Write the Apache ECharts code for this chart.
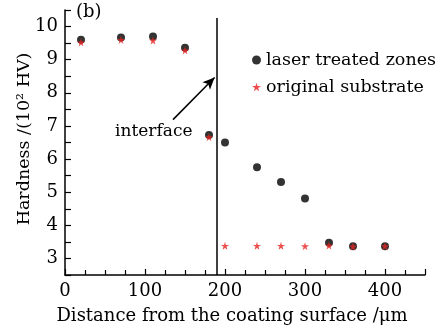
<!DOCTYPE html>
<html>
<head>
<meta charset="utf-8">
<script src="https://cdn.jsdelivr.net/npm/echarts@6/dist/echarts.min.js"></script>
<style>
  html, body { margin: 0; padding: 0; background: #fff; }
  #chart { width: 443px; height: 330px; }
</style>
</head>
<body>
<div id="chart"></div>
<script>
// distances (µm) and hardness (10^2 HV)
const laserX = [20, 70, 110, 150, 180, 200, 240, 270, 300, 330, 360, 400]
const laserY = [9.6, 9.67, 9.7, 9.36, 6.73, 6.5, 5.75, 5.31, 4.81, 3.47, 3.37, 3.37]
const substrateX = [20, 70, 110, 150, 180, 200, 240, 270, 300, 330, 360, 400]
const substrateY = [9.52, 9.6, 9.58, 9.28, 6.66, 3.38, 3.38, 3.38, 3.37, 3.39, 3.36, 3.37]
const xTicks = [0, 100, 200, 300, 400]
const yTicks = [3, 4, 5, 6, 7, 8, 9, 10]
const interfaceX = 190
const arrowFrom = [135, 7.19]
const arrowTo = [187, 8.46]
const labelAt = [111, 6.83]

const font = 'DejaVu Serif'
const starPath = 'path://M50,0 L61,35 L98,35 L68,57 L79,91 L50,70 L21,91 L32,57 L2,35 L39,35 Z'

const chart = echarts.init(document.getElementById('chart'))
const option = {
  backgroundColor: '#fff',
  animation: false,
  textStyle: { fontFamily: font, color: '#000' },
  grid: { left: 65, right: 18, top: 10, bottom: 55 },
  legend: {
    orient: 'vertical',
    left: 247,
    top: 46,
    itemGap: 9,
    itemWidth: 9,
    itemHeight: 9,
    textStyle: { fontFamily: font, fontSize: 17.5, color: '#000' },
    data: [
      { name: 'laser treated zones', icon: 'circle' },
      { name: 'original substrate', icon: starPath }
    ]
  },
  graphic: [
    { type: 'text', left: 76, top: 3, style: { text: '(b)', font: '18px "DejaVu Serif"', fill: '#000' } }
  ],
  xAxis: {
    type: 'value',
    min: 0,
    max: 450,
    interval: 100,
    name: 'Distance from the coating surface /μm',
    nameLocation: 'middle',
    nameMoveOverlap: false,
    nameGap: 32,
    nameTextStyle: { fontFamily: font, fontSize: 18, color: '#000', padding: [0, 26, 0, 0] },
    axisLine: { onZero: false, lineStyle: { color: '#000', width: 1.5 } },
    axisTick: { inside: true, length: 6, lineStyle: { color: '#000', width: 1.2 } },
    minorTick: { show: true, splitNumber: 4, length: 5, lineStyle: { color: '#000', width: 1.2 } },
    axisLabel: {
      fontFamily: font, fontSize: 18, color: '#000', margin: 7,
      formatter: v => (xTicks.includes(v) ? String(v) : '')
    },
    splitLine: { show: false }
  },
  yAxis: {
    type: 'value',
    min: 2.5,
    max: 10.5,
    interval: 0.5,
    name: 'Hardness /(10² HV)',
    nameLocation: 'middle',
    nameMoveOverlap: false,
    nameGap: 32,
    nameTextStyle: { fontFamily: font, fontSize: 17.5, color: '#000', padding: [0, 0, 0, 7] },
    axisLine: { show: true, onZero: false, lineStyle: { color: '#000', width: 1.5 } },
    axisTick: { inside: true, length: 6, lineStyle: { color: '#000', width: 1.2 } },
    axisLabel: {
      fontFamily: font, fontSize: 18, color: '#000', margin: 7,
      formatter: v => (yTicks.includes(v) ? String(v) : '')
    },
    splitLine: { show: false }
  },
  series: [
    {
      name: 'laser treated zones',
      type: 'scatter',
      symbol: 'circle',
      symbolSize: 8,
      itemStyle: { color: '#000' },
      data: laserX.map((x, i) => [x, laserY[i]]),
      z: 2
    },
    {
      name: 'original substrate',
      type: 'scatter',
      symbol: starPath,
      symbolSize: 8,
      itemStyle: { color: '#e8231f' },
      data: substrateX.map((x, i) => [x, substrateY[i]]),
      z: 3,
      markLine: {
        silent: true,
        animation: false,
        label: { show: false },
        data: [
          [
            { coord: [interfaceX, 2.5], symbol: 'none' },
            { coord: [interfaceX, 10.26], symbol: 'none' }
          ],
          [
            { coord: arrowFrom, symbol: 'none' },
            { coord: arrowTo, symbol: 'arrow', symbolSize: [8, 12] }
          ]
        ],
        lineStyle: { color: '#000', width: 1.5, type: 'solid' }
      },
      markPoint: {
        silent: true,
        symbol: 'circle',
        symbolSize: 0,
        label: { show: true, formatter: 'interface', fontFamily: font, fontSize: 17, color: '#000' },
        data: [{ coord: labelAt }]
      }
    }
  ]
}
chart.setOption(option)
</script>
</body>
</html>
